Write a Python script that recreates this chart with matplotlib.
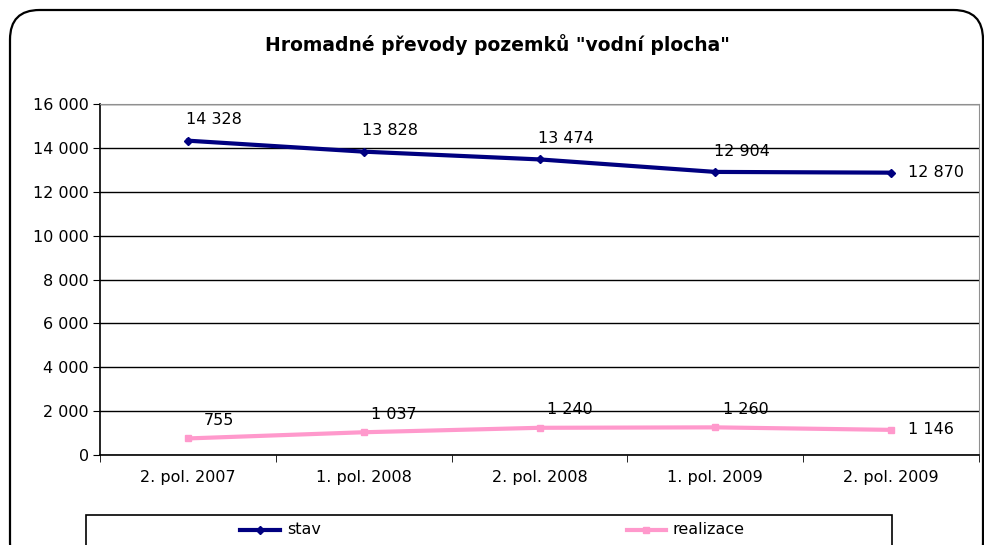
import matplotlib.pyplot as plt
from matplotlib.patches import FancyBboxPatch, Rectangle
from matplotlib.lines import Line2D

categories = ["2. pol. 2007", "1. pol. 2008", "2. pol. 2008", "1. pol. 2009", "2. pol. 2009"]
stav = [14328, 13828, 13474, 12904, 12870]
realizace = [755, 1037, 1240, 1260, 1146]
yticks = [0, 2000, 4000, 6000, 8000, 10000, 12000, 14000, 16000]


def fmt(v):
    return "{:,}".format(v).replace(",", " ")


fs = 11.5
fig = plt.figure(figsize=(9.84, 5.45), dpi=100)

# outer rounded frame
frame = FancyBboxPatch((10 / 984, -0.05), 973 / 984, 1 - 10 / 545 + 0.05,
                       boxstyle="round,pad=0,rounding_size=0.03",
                       transform=fig.transFigure, fill=False, lw=1.6,
                       edgecolor="black", mutation_aspect=984 / 545)
fig.patches.append(frame)

ax = fig.add_axes([100 / 984, 1 - 455 / 545, 879 / 984, 351 / 545])
x = list(range(len(categories)))

ax.plot(x, stav, color="#000080", lw=3, marker="D", ms=4, zorder=3)
ax.plot(x, realizace, color="#FF99CC", lw=3, marker="s", ms=4, zorder=3)

ax.set_xlim(-0.5, 4.5)
ax.set_ylim(0, 16000)
ax.set_yticks(yticks)
ax.set_yticklabels([fmt(v) for v in yticks], fontsize=fs)
ax.set_xticks(x)
ax.set_xticklabels(categories, fontsize=fs)
ax.set_xticks([i - 0.5 for i in range(len(categories) + 1)], minor=True)
ax.tick_params(axis="x", which="major", length=0, pad=11)
ax.tick_params(axis="x", which="minor", length=5, direction="out")
ax.tick_params(axis="y", length=5, direction="out", pad=3)
ax.grid(axis="y", color="black", lw=1)
ax.set_axisbelow(True)
ax.spines["top"].set_color("#909090")
ax.spines["right"].set_color("#909090")
ax.spines["left"].set_linewidth(1.2)
ax.spines["bottom"].set_linewidth(1.2)

for i, v in enumerate(stav):
    if i == len(stav) - 1:
        ax.annotate(fmt(v), (i, v), xytext=(12, 0), textcoords="offset points",
                    ha="left", va="center", fontsize=fs)
    else:
        ax.annotate(fmt(v), (i, v), xytext=(19, 15), textcoords="offset points",
                    ha="center", va="center", fontsize=fs)
for i, v in enumerate(realizace):
    if i == len(realizace) - 1:
        ax.annotate(fmt(v), (i, v), xytext=(12, 0), textcoords="offset points",
                    ha="left", va="center", fontsize=fs)
    else:
        ax.annotate(fmt(v), (i, v), xytext=(22, 13), textcoords="offset points",
                    ha="center", va="center", fontsize=fs)

fig.text(497 / 984, 1 - 45 / 545, 'Hromadné převody pozemků "vodní plocha"',
         ha="center", va="center", fontsize=13.5, fontweight="bold")

# legend box (cut off at the bottom)
fig.patches.append(Rectangle((86 / 984, -0.05), 806 / 984, 0.05 + 30 / 545,
                             transform=fig.transFigure, fill=False, lw=1.2,
                             edgecolor="black"))
ly = 1 - 530 / 545
fig.lines.append(Line2D([240 / 984, 260 / 984, 280 / 984], [ly, ly, ly], color="#000080",
                        lw=3, marker="D", ms=4, markevery=[1], transform=fig.transFigure))
fig.text(287 / 984, ly, "stav", ha="left", va="center", fontsize=fs)
fig.lines.append(Line2D([627 / 984, 646 / 984, 666 / 984], [ly, ly, ly], color="#FF99CC",
                        lw=3, marker="s", ms=4, markevery=[1], transform=fig.transFigure))
fig.text(672 / 984, ly, "realizace", ha="left", va="center", fontsize=fs)

fig.savefig("out.png", dpi=100)
